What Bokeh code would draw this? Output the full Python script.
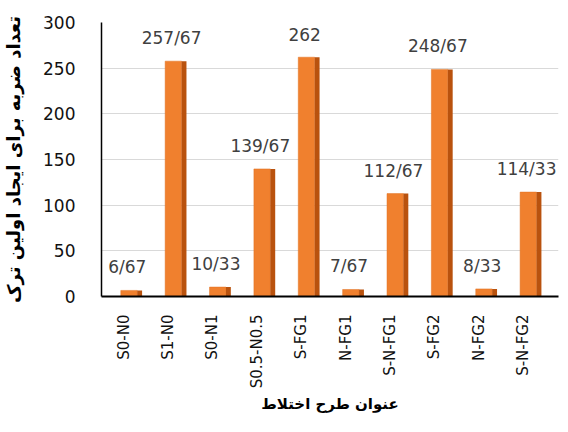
from bokeh.plotting import figure
from bokeh.models import ColumnDataSource, Range1d, FixedTicker, LabelSet
from bokeh.transform import dodge
from bokeh.embed import file_html
from bokeh.resources import INLINE
from bokeh.core.properties import value
import math

categories = ["S0-N0", "S1-N0", "S0-N1", "S0.5-N0.5", "S-FG1",
              "N-FG1", "S-N-FG1", "S-FG2", "N-FG2", "S-N-FG2"]
values = [6.67, 257.67, 10.33, 139.67, 262, 7.67, 112.67, 248.67, 8.33, 114.33]
value_labels = ["6/67", "257/67", "10/33", "139/67", "262",
                "7/67", "112/67", "248/67", "8/33", "114/33"]
y_ticks = [0, 50, 100, 150, 200, 250, 300]
y_title = "تعداد ضربه برای ایجاد اولین ترک"
x_title = "عنوان طرح اختلاط"

positions = [i + 0.5 for i in range(len(categories))]
src = ColumnDataSource(dict(x=positions, cat=categories, val=values, lab=value_labels))

NUM_FONT = "DejaVu Sans"

p = figure(width=560, height=416,
           x_range=Range1d(0, 10.3),
           y_range=Range1d(0, 300),
           output_backend="svg", toolbar_location=None,
           min_border_left=100, min_border_right=2,
           min_border_top=22, min_border_bottom=120)
p.outline_line_color = None
p.background_fill_color = "white"

# 3D-like bars: front face + darker side
p.vbar(x=dodge("x", 0.12), top="val", bottom=0, width=0.37,
       source=src, fill_color="#F0802E", line_color="#E07020", line_width=0.5)
p.vbar(x=dodge("x", 0.36), top="val", bottom=0, width=0.11,
       source=src, fill_color="#B9520E", line_color=None)

labels = LabelSet(x=dodge("x", 0.08), y="val", text="lab", source=src,
                  text_align="center", text_baseline="middle", y_offset=23,
                  text_font=value(NUM_FONT), text_font_size=value("17px"),
                  text_color="#404040")
p.add_layout(labels)

p.xgrid.grid_line_color = None
p.ygrid.grid_line_color = "#D9D9D9"
p.ygrid.grid_line_width = 1
p.yaxis.ticker = FixedTicker(ticks=y_ticks)

p.yaxis.axis_line_color = "black"
p.yaxis.axis_line_width = 1.5
p.yaxis.major_tick_line_color = None
p.yaxis.minor_tick_line_color = None
p.yaxis.major_label_standoff = 20
p.yaxis.major_label_text_font = NUM_FONT
p.yaxis.major_label_text_font_size = "17px"
p.yaxis.major_label_text_color = "#111111"
p.yaxis.axis_label = y_title
p.yaxis.axis_label_text_font = "DejaVu Sans"
p.yaxis.axis_label_text_font_style = "bold"
p.yaxis.axis_label_text_font_size = "18px"
p.yaxis.axis_label_text_color = "black"
p.yaxis.axis_label_standoff = 16

p.xaxis.ticker = FixedTicker(ticks=positions)
p.xaxis.major_label_overrides = {pos: cat for pos, cat in zip(positions, categories)}
p.xaxis.axis_line_color = "black"
p.xaxis.axis_line_width = 2
p.xaxis.major_tick_line_color = None
p.xaxis.minor_tick_line_color = None
p.xaxis.major_label_orientation = math.pi / 2
p.xaxis.major_label_standoff = 12
p.xaxis.major_label_text_font = NUM_FONT
p.xaxis.major_label_text_font_size = "15px"
p.xaxis.major_label_text_color = "#111111"
p.xaxis.axis_label = x_title
p.xaxis.axis_label_text_font = "DejaVu Sans"
p.xaxis.axis_label_text_font_style = "bold"
p.xaxis.axis_label_text_font_size = "15px"
p.xaxis.axis_label_text_color = "black"
p.xaxis.axis_label_standoff = 4

open("out.html", "w").write(file_html(p, INLINE))
